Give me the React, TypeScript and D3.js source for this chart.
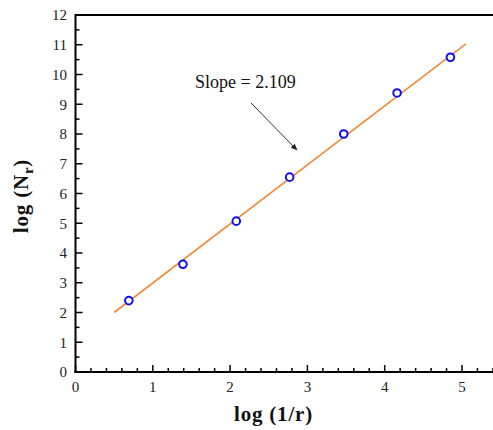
import * as d3 from 'd3'

// measured points: log(1/r) vs log(Nr)
const logInvR = [0.69, 1.39, 2.08, 2.77, 3.47, 4.16, 4.85]
const logNr = [2.4, 3.62, 5.07, 6.55, 8.0, 9.38, 10.58]
// fitted line endpoints as drawn
const fitX = [0.5, 5.05]
const fitY = [2.0, 11.03]
const xTicks = [0, 1, 2, 3, 4, 5]
const yTicks = [0, 1, 2, 3, 4, 5, 6, 7, 8, 9, 10, 11, 12]
const slopeLabel = 'Slope = 2.109'

const W = 493
const H = 430
const left = 75.5
const top = 15
const bottom = 372

export default function App() {
  const x = d3.scaleLinear().domain([0, 5.5]).range([left, left + 5.5 * 77.3])
  const y = d3.scaleLinear().domain([0, 12]).range([bottom, top])
  const line = d3.line<number>().x((_, i) => x(fitX[i])).y(d => y(d))
  const xMinor = d3.range(0, 5.5, 0.2).filter(v => Math.abs(v - Math.round(v)) > 1e-6)
  const yMinor = d3.range(0.5, 12, 1)
  const font = '"Liberation Serif", "Times New Roman", serif'

  return (
    <svg width={W} height={H} style={{ position: 'absolute', left: 0, top: 0, background: '#fff' }}>
      <defs>
        <marker id="arr" viewBox="0 0 10 10" refX="9" refY="5" markerWidth="7" markerHeight="7" orient="auto">
          <path d="M0,1 L10,5 L0,9 z" fill="#222" />
        </marker>
      </defs>
      {/* fit line */}
      <path d={line(fitY) || ''} fill="none" stroke="#f28a3c" strokeWidth={1.6} />
      {/* points */}
      {logInvR.map((v, i) => (
        <circle key={i} cx={x(v)} cy={y(logNr[i])} r={3.8} fill="#fff" stroke="#1010ee" strokeWidth={2} />
      ))}
      {/* annotation */}
      <text x={195} y={88} fontFamily={font} fontSize={18} fill="#111">{slopeLabel}</text>
      <line x1={251} y1={103} x2={297} y2={150} stroke="#333" strokeWidth={1} markerEnd="url(#arr)" />
      {/* axes frame */}
      <line x1={left} y1={top} x2={W} y2={top} stroke="#000" strokeWidth={2} />
      <line x1={left} y1={top - 1} x2={left} y2={bottom + 1} stroke="#000" strokeWidth={2} />
      <line x1={left - 1} y1={bottom} x2={W} y2={bottom} stroke="#000" strokeWidth={2} />
      {/* x ticks */}
      {xTicks.map(t => (
        <g key={'xt' + t}>
          <line x1={x(t)} x2={x(t)} y1={bottom} y2={bottom - 7} stroke="#000" strokeWidth={1.5} />
          <text x={x(t)} y={391.5} textAnchor="middle" fontFamily={font} fontSize={15} fill="#222">{t}</text>
        </g>
      ))}
      {xMinor.map(t => (
        <line key={'xm' + t} x1={x(t)} x2={x(t)} y1={bottom} y2={bottom - 4} stroke="#000" strokeWidth={1.5} />
      ))}
      {/* y ticks */}
      {yTicks.map(t => (
        <g key={'yt' + t}>
          {t > 0 && t < 12 && (
            <line x1={left} x2={left + 7} y1={y(t)} y2={y(t)} stroke="#000" strokeWidth={1.5} />
          )}
          <text x={67} y={y(t)} dy="0.35em" textAnchor="end" fontFamily={font} fontSize={15} fill="#222">{t}</text>
        </g>
      ))}
      {yMinor.map(t => (
        <line key={'ym' + t} x1={left} x2={left + 4} y1={y(t)} y2={y(t)} stroke="#000" strokeWidth={1.5} />
      ))}
      {/* axis titles */}
      <text x={273.5} y={421} textAnchor="middle" fontFamily={font} fontSize={21} fontWeight="bold" letterSpacing={0.8} fill="#111">log (1/r)</text>
      <text transform="translate(27.5,196) rotate(-90)" textAnchor="middle" fontFamily={font} fontSize={21} fontWeight="bold" letterSpacing={0.8} fill="#111">
        log (N<tspan fontSize={15} dy={5}>r</tspan><tspan dy={-5}>)</tspan>
      </text>
    </svg>
  )
}
